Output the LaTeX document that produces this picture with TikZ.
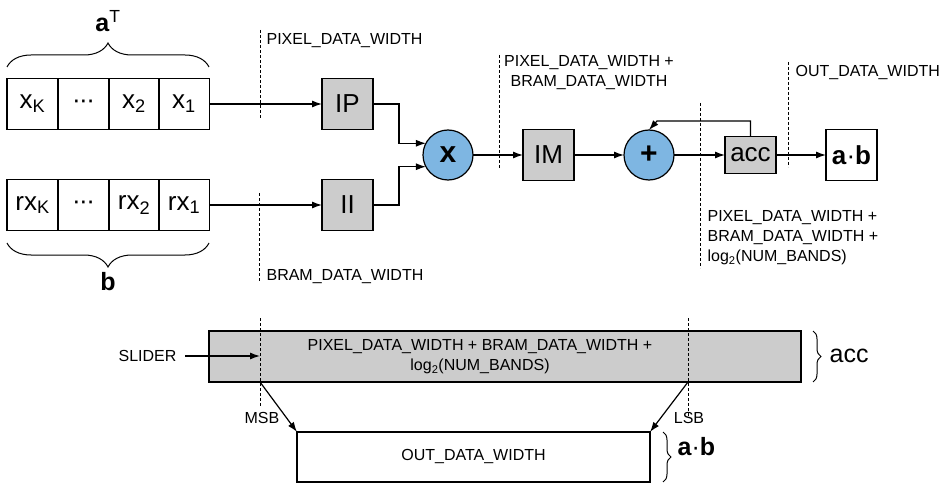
\documentclass[tikz,border=0pt]{standalone}
\usepackage{fontspec}
\setmainfont{Liberation Sans}
\usetikzlibrary{arrows.meta,decorations.pathreplacing}
\definecolor{boxgray}{RGB}{204,204,204}
\definecolor{opblue}{RGB}{126,182,226}
\newcommand{\mydots}{·\kern-1.5pt·\kern-1.5pt·}
\begin{document}
\begin{tikzpicture}[x=1pt,y=-1pt,
  line width=1.2pt,
  cell/.style={draw, minimum width=51pt, minimum height=51pt, inner sep=0pt, outer sep=0pt, font=\fontsize{26}{30}\selectfont},
  gbox/.style={cell, fill=boxgray},
  op/.style={circle, draw, fill=opblue, minimum size=50pt, inner sep=0pt, outer sep=0pt, font=\fontsize{30}{32}\selectfont\bfseries},
  lbl/.style={inner sep=0pt, font=\fontsize{16}{20}\selectfont},
  big/.style={inner sep=0pt, font=\fontsize{25}{30}\selectfont},
  arr/.style={-{Latex[length=10pt,width=7pt]}},
  dsh/.style={line width=0.9pt, dash pattern=on 3pt off 2pt},
  brc/.style={decorate, decoration={brace, amplitude=#1}},
  brcm/.style={decorate, decoration={brace, mirror, amplitude=#1}},
]
\useasboundingbox (0,0) rectangle (951,484);

% vector a^T
\node[cell] (a1) at (32.5,104) {x\textsubscript{K}};
\node[cell] (a2) at (83.5,104) {\mydots};
\node[cell] (a3) at (134,104) {x\textsubscript{2}};
\node[cell] (a4) at (184,104) {x\textsubscript{1}};
% vector b
\node[cell] (b1) at (32.5,205) {rx\textsubscript{K}};
\node[cell] (b2) at (83.5,205) {\mydots};
\node[cell] (b3) at (134,205) {rx\textsubscript{2}};
\node[cell] (b4) at (184,205) {rx\textsubscript{1}};

\draw[brc=24pt, line width=1pt] (7,67) -- (209,67);
\draw[brcm=24pt, line width=1pt] (7,243) -- (209,243);
\node[big, anchor=base] (aT) at (108,32) {\textbf{a}\textsuperscript{T}};
\node[big, anchor=base] (bl) at (108,290) {\textbf{b}};

% pipeline
\node[gbox] (IP) at (347.5,104) {IP};
\node[gbox] (II) at (347.5,205) {II};
\node[op] (mul) at (448,155) {x};
\node[gbox] (IM) at (548.5,155) {IM};
\node[op] (add) at (649,155) {+};
\node[gbox, minimum height=37pt] (acc) at (750.5,155) {acc};
\node[cell] (ab) at (851.5,155) {\textbf{a}·\textbf{b}};

\draw[arr] (a4.east) -- (IP.west);
\draw[arr] (b4.east) -- (II.west);
\draw[arr] (IP.east) -- ++(26,0) |- (mul.152);
\draw[arr] (II.east) -- ++(26,0) |- (mul.208);
\draw[arr] (mul.east) -- (IM.west);
\draw[arr] (IM.east) -- (add.west);
\draw[arr] (add.east) -- (acc.west);
\draw[arr] (acc.east) -- (ab.west);
\coordinate (fb) at (657,121);
\draw[arr] (acc.north) |- (fb) -- (add.north);

% dashed width markers
\draw[dsh] (260,30) -- (260,118);
\draw[dsh] (259,193) -- (259,282);
\draw[dsh] (499,55) -- (499,168);
\draw[dsh] (700,103) -- (700,268);
\draw[dsh] (788,62) -- (788,167);

\node[lbl, anchor=base west] (w1) at (266,45) {PIXEL\_DATA\_WIDTH};
\node[lbl, anchor=base west] (w2) at (266,280) {BRAM\_DATA\_WIDTH};
\node[lbl, align=center] (w3) at (589,73) {PIXEL\_DATA\_WIDTH +\\BRAM\_DATA\_WIDTH};
\node[lbl, anchor=base west] (w4) at (795,77) {OUT\_DATA\_WIDTH};
\node[lbl, align=left, anchor=west] (w5) at (707,238) {PIXEL\_DATA\_WIDTH +\\BRAM\_DATA\_WIDTH +\\log\textsubscript{2}(NUM\_BANDS)};

% bit slicing
\node[draw, fill=boxgray, minimum width=592pt, minimum height=51pt, inner sep=0pt, outer sep=0pt] (accreg) at (505,356.5) {};
\node[lbl, align=center] (acctext) at (480,357) {PIXEL\_DATA\_WIDTH + BRAM\_DATA\_WIDTH +\\log\textsubscript{2}(NUM\_BANDS)};
\node[draw, fill=white, minimum width=353pt, minimum height=50pt, inner sep=0pt, outer sep=0pt, font=\fontsize{16}{20}\selectfont] (outreg) at (473.5,457) {OUT\_DATA\_WIDTH};

\draw[dsh] (260,318) -- (260,407);
\draw[dsh] (688,318) -- (688,416);

\node[lbl, anchor=east] (slider) at (177,356) {SLIDER};
\coordinate (sl) at (260,356);
\draw[arr] ([xshift=8pt]slider.east) -- (sl);

\coordinate (msb) at (260,382);
\coordinate (lsb) at (688,382);
\draw[arr] (msb) -- (outreg.north west);
\draw[arr] (lsb) -- (outreg.north east);
\node[lbl] (msbl) at (262,418) {MSB};
\node[lbl] (lsbl) at (689,418) {LSB};

\draw[brc=8pt, line width=1pt] (813,331) -- (813,382);
\draw[brc=8pt, line width=1pt] (663,432) -- (663,482);
\node[big, anchor=base west] (accl) at (829,362) {acc};
\node[big, anchor=base west] (abl) at (677,455) {\textbf{a}·\textbf{b}};
\end{tikzpicture}
\end{document}
